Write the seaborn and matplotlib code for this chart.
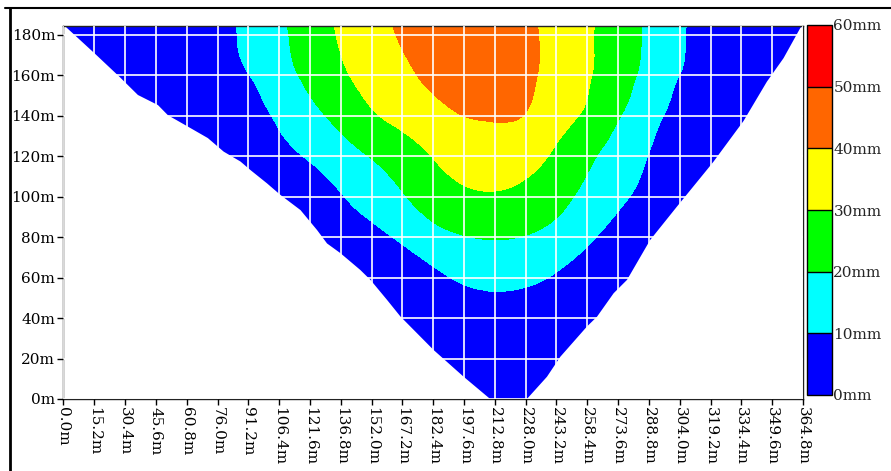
import matplotlib
matplotlib.use("Agg")
import matplotlib.pyplot as plt
from matplotlib.colors import ListedColormap, BoundaryNorm
from matplotlib.patches import Polygon
from matplotlib.lines import Line2D
from matplotlib.tri import Triangulation, UniformTriRefiner
import matplotlib.cm as cm
import numpy as np
import seaborn as sns

# section positions (m) and elevations (m) of the reading grid
x_nodes = [0.0, 15.2, 30.4, 45.6, 60.8, 76.0, 91.2, 106.4, 121.6, 136.8, 152.0, 167.2,
           182.4, 197.6, 212.8, 228.0, 243.2, 258.4, 273.6, 288.8, 304.0, 319.2, 334.4,
           349.6, 364.8]
y_nodes = [0, 20, 40, 60, 80, 100, 120, 140, 160, 180, 185]

# displacement (mm) at the nodes, one list per elevation, bottom to top
disp_0 = [0.0, 0.0, 0.0, 0.0, 0.0, 0.0, 0.0, 0.0, 0.0, 0.0, 0.0, 0.0, 0.0,
          0.0, 0.0, 0.0, 0.0, 0.0, 0.0, 0.0, 0.0, 0.0, 0.0, 0.0, 0.0]
disp_20 = [-20, -19, -18, -17, -16, -15, -13, -11, -9, -7, -5, -3, -1,
           0.5, 1.5, 1.0, 0, -2, -4, -6, -8, -10, -12, -14, -16]
disp_40 = [-16.7, -15.2, -13.7, -12.1, -10.6, -9.1, -7.6, -6.0, -4.5, -3.0, -1.4, 0.1, 1.6,
           3.2, 4.7, 3.6, 2.0, 0.5, -1.0, -2.5, -4.0, -5.5, -7.0, -8.5, -10.0]
disp_60 = [-37.2, -33.5, -29.8, -26.0, -22.3, -18.6, -14.7, -10.9, -7.1, -3.4, 0.4, 4.2, 7.9,
           11.4, 12.8, 12.0, 9.0, 5.1, 1.2, -2.7, -6.5, -10.4, -14.3, -18.1, -22.0]
disp_80 = [-38.7, -34.2, -29.6, -25.1, -20.6, -16.0, -11.5, -7.0, -2.4, 2.1, 6.7, 11.6, 16.6,
           19.6, 20.6, 19.6, 16.6, 11.6, 6.0, 0.6, -4.8, -10.3, -15.7, -21.1, -26.5]
disp_100 = [-36.0, -31.0, -25.9, -20.9, -15.8, -10.8, -5.7, -0.7, 4.4, 9.4, 14.3, 19.2, 24.8,
            28.2, 29.1, 27.4, 23.2, 17.4, 12.0, 6.5, 1.0, -4.5, -10.0, -15.5, -21.0]
disp_120 = [-22.9, -18.6, -14.4, -10.2, -6.0, -1.8, 2.5, 6.7, 11.0, 15.8, 20.5, 25.4, 30.3,
            34.1, 35.1, 33.2, 28.4, 21.9, 15.7, 9.8, 5.4, 1.0, -3.4, -7.8, -12.2]
disp_140 = [-11.1, -8.0, -4.8, -1.7, 1.4, 3.8, 6.1, 11.6, 17.3, 23.0, 28.8, 32.8, 36.5,
            40.05, 40.9, 39.6, 33.7, 28.3, 20.7, 13.6, 6.4, 3.0, 0.5, -3.3, -7.1]
disp_160 = [-4.0, -1.7, 0.6, 2.9, 5.2, 7.5, 9.8, 16.0, 22.3, 28.5, 33.3, 37.7, 42.4,
            45.2, 45.0, 41.9, 36.5, 30.9, 24.1, 17.0, 9.9, 6.5, 3.2, -0.2, -3.6]
disp_180 = [0.0, 1.5, 3.4, 5.0, 6.0, 6.8, 12.3, 18.1, 24.5, 30.9, 35.9, 41.1, 45.2,
            46.8, 45.8, 42.2, 36.7, 31.2, 24.9, 18.3, 11.4, 4.8, 3.5, 2.0, 0.0]
disp_185 = [0.0, 1.7, 3.6, 5.2, 6.2, 7.0, 12.8, 18.5, 24.9, 31.3, 36.4, 41.7, 45.6,
            47.0, 45.8, 42.0, 36.7, 31.4, 25.1, 18.5, 11.7, 4.8, 3.6, 2.2, 0.0]

# valley walls (m), top to bottom
left_wall_x = [0.0, 15.3, 27.6, 36.7, 46.6, 51.5, 61.3, 71.2, 79.0, 87.3, 92.2, 100.4, 107.0,
               116.9, 125.1, 130.0, 136.6, 146.4, 151.4, 159.6, 166.2, 182.6, 197.4, 210.5]
left_wall_y = [185, 170.9, 159.3, 150.3, 145.3, 140.3, 134.7, 129.0, 122.3, 117.4, 113.2, 106.6,
               100.9, 93.4, 83.5, 76.9, 72.1, 63.8, 58.9, 49.0, 40.8, 24.2, 11.0, 0]
right_wall_x = [364.8, 363.4, 355.2, 347.0, 335.5, 320.7, 317.4, 302.6, 289.4, 278.0, 271.4,
                263.2, 258.2, 245.1, 238.5, 228.6]
right_wall_y = [185, 183.3, 168.5, 156.9, 137.5, 117.4, 113.3, 95.1, 78.6, 58.9, 52.3,
                40.7, 35.8, 20.9, 11.0, 0]

levels = [-60, 10, 20, 30, 40, 50, 60]
colors = ["#0000ff", "#00ffff", "#00ff00", "#ffff00", "#ff6600", "#ff0000"]
cbar_bounds = [0, 10, 20, 30, 40, 50, 60]
cbar_labels = ["0mm", "10mm", "20mm", "30mm", "40mm", "50mm", "60mm"]
x_labels = ["0.0m", "15.2m", "30.4m", "45.6m", "60.8m", "76.0m", "91.2m", "106.4m", "121.6m",
            "136.8m", "152.0m", "167.2m", "182.4m", "197.6m", "212.8m", "228.0m", "243.2m",
            "258.4m", "273.6m", "288.8m", "304.0m", "319.2m", "334.4m", "349.6m", "364.8m"]
y_ticks = [0, 20, 40, 60, 80, 100, 120, 140, 160, 180]
y_labels = ["0m", "20m", "40m", "60m", "80m", "100m", "120m", "140m", "160m", "180m"]

sns.set_style("ticks")
plt.rcParams["font.family"] = ["DejaVu Serif"]
plt.rcParams["font.size"] = 11

disp = np.array([disp_0, disp_20, disp_40, disp_60, disp_80, disp_100,
                 disp_120, disp_140, disp_160, disp_180, disp_185])
gx, gy = np.meshgrid(x_nodes, y_nodes)

fig = plt.figure(figsize=(8.91, 4.71), dpi=100)
ax = fig.add_axes([63.5 / 891, 72 / 471, 739.5 / 891, 373 / 471])

# smooth the node readings with matplotlib's own cubic refiner
tri = Triangulation(gx.ravel(), gy.ravel())
tri_fine, disp_fine = UniformTriRefiner(tri).refine_field(disp.ravel(), subdiv=3)
cs = ax.tricontourf(tri_fine, disp_fine, levels=levels, colors=colors)

# cut the field to the valley section
outline = list(zip(left_wall_x, left_wall_y)) + list(zip(right_wall_x[::-1], right_wall_y[::-1]))
section = Polygon(outline, closed=True, facecolor="none", edgecolor="none", transform=ax.transData)
ax.add_patch(section)
cs.set_clip_path(section)

ax.set_xlim(0, 364.8)
ax.set_ylim(0, 184.4)
ax.set_xticks(x_nodes)
ax.set_xticklabels(x_labels, rotation=270, va="top", ha="center")
ax.set_yticks(y_ticks)
ax.set_yticklabels(y_labels)
ax.tick_params(direction="out", length=4, width=1, pad=2, colors="black")
ax.grid(True, color="white", linewidth=1.2)
ax.set_axisbelow(False)
for s in ax.spines.values():
    s.set_color("#222222")
    s.set_linewidth(1)

# colour key
cax = fig.add_axes([807 / 891, 76 / 471, 25 / 891, 370 / 471])
key = cm.ScalarMappable(norm=BoundaryNorm(cbar_bounds, len(colors)), cmap=ListedColormap(colors))
cb = fig.colorbar(key, cax=cax, ticks=cbar_bounds, drawedges=True)
cb.ax.set_yticklabels(cbar_labels)
cb.ax.tick_params(length=0, pad=1)
cb.outline.set_edgecolor("black")
cb.outline.set_linewidth(1)
cb.dividers.set_color("black")
cb.dividers.set_linewidth(1)

# window frame of the original screenshot
fig.add_artist(Line2D([9.5 / 891, 9.5 / 891], [0, 463 / 471], color="black", linewidth=2))
fig.add_artist(Line2D([5 / 891, 1], [463 / 471, 463 / 471], color="black", linewidth=1.5))

fig.savefig("out.png", dpi=100)
